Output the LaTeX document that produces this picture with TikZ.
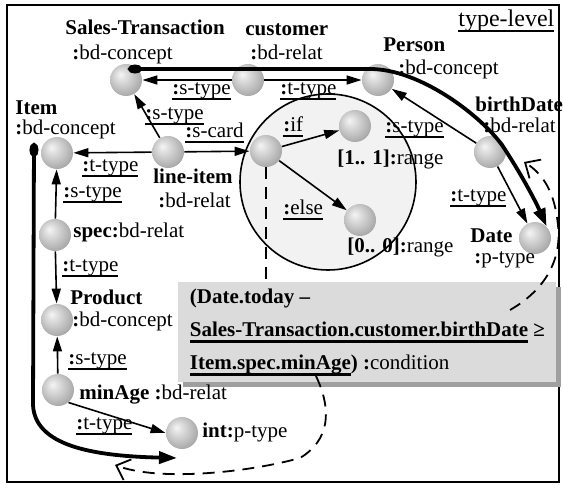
\documentclass[tikz,border=0pt]{standalone}
\usepackage{fontspec}
\setmainfont{Liberation Serif}
\usetikzlibrary{shapes,arrows,arrows.meta,positioning,shadows}

\pgfdeclareradialshading{sphere}{\pgfpoint{-9bp}{9bp}}{color(0bp)=(gray!8); color(8bp)=(gray!25); color(30bp)=(gray!70); color(40bp)=(gray!88); color(50bp)=(gray!92)}
\newcommand{\tul}[1]{\setbox0=\hbox{#1}\rlap{\rule[-2.4pt]{\wd0}{0.9pt}}\box0\relax}
\newcommand{\tulb}[1]{\setbox0=\hbox{#1}\rlap{\rule[-3pt]{\wd0}{1.4pt}}\box0\relax}

\begin{document}
\begin{tikzpicture}[x=0.5pt, y=-0.5pt, font=\fontsize{10.5pt}{12.6pt}\selectfont, ball/.style = {circle, shade, shading=sphere, minimum size=16pt, inner sep=0pt}, lbl/.style = {anchor=west, inner sep=0pt, text height=7pt, text depth=2pt}, line/.style = {draw, line width=0.8pt, -{Triangle[length=7.5pt,width=4.5pt]}}, hint/.style = {draw, line width=0.9pt, dash pattern=on 6pt off 4pt, -{Straight Barb[length=6pt,width=11pt]}}, nav/.style = {draw, line width=1.9pt, {Ellipse[length=7pt,width=4.5pt]}-{Triangle[length=9pt,width=6pt]}}, cond/.style = {rectangle, fill=gray!28, anchor=north west, minimum width=189pt, minimum height=48pt, inner xsep=4.5pt, align=left, font=\fontsize{10.5pt}{16.5pt}\selectfont, drop shadow={shadow xshift=2.5pt, shadow yshift=-2.5pt, fill=gray!75, opacity=1}}, area/.style = {circle, draw, line width=0.8pt, fill=gray!10, minimum size=88pt, inner sep=0pt}]
					\useasboundingbox (0,0) rectangle (563,485);
					\draw[line width=0.8pt] (7,5) rectangle (559,482);
					\node[area] (ifarea) at (328,182) {};
					
					\node[ball] (sales) at (126,80) {};
					\node[ball] (cust) at (248,80) {};
					\node[ball] (person) at (378,80) {};
					\node[ball] (item) at (57,153) {};
					\node[ball] (lineitem) at (168,152) {};
					\node[ball] (card) at (266,151) {};
					\node[ball] (one) at (355,126) {};
					\node[ball] (zero) at (360,220) {};
					\node[ball] (bdate) at (490,152) {};
					\node[ball] (date) at (535,238) {};
					\node[ball] (spec) at (55,235) {};
					\node[ball] (product) at (57,320) {};
					\node[ball] (minage) at (58,390) {};
					\node[ball] (int) at (182,433) {};
					\node[cond] (condition) at (178,282) {\textbf{(Date.today –}\\\textbf{\tulb{Sales-Transaction.customer.birthDate}\ ≥}\\\textbf{\tulb{Item.spec.minAge}) :}condition};
					
					\node[lbl] (stname) at (65,30) {\textbf{Sales-Transaction}};
					\node[lbl] (stcon) at (72,55) {\textbf{:}bd-concept};
					\node[lbl] (cuname) at (245,31) {\textbf{customer}};
					\node[lbl] (curel) at (250,55) {\textbf{:}bd-relat};
					\node[lbl, font=\fontsize{12pt}{14pt}\selectfont] (level) at (458,22) {\tul{type-level}};
					\node[lbl] (pename) at (383,47) {\textbf{Person}};
					\node[lbl] (pecon) at (398,70) {\textbf{:}bd-concept};
					\node[lbl] (bdname) at (475,107) {\textbf{birthDate}};
					\node[lbl] (bdrel) at (483,128) {\textbf{:}bd-relat};
					\node[lbl] (itname) at (15,110) {\textbf{Item}};
					\node[lbl] (itcon) at (15,130) {\textbf{:}bd-concept};
					\node[lbl] (liname) at (153,179) {\textbf{line-item}};
					\node[lbl] (lirel) at (158,203) {\textbf{:}bd-relat};
					\node[lbl] (spname) at (73,233) {\textbf{spec:}bd-relat};
					\node[lbl] (prname) at (70,300) {\textbf{Product}};
					\node[lbl] (prcon) at (72,322) {\textbf{:}bd-concept};
					\node[lbl] (maname) at (79,395) {\textbf{minAge :}bd-relat};
					\node[lbl] (inname) at (202,433) {\textbf{int:}p-type};
					\node[lbl] (onename) at (337,160) {\textbf{[1.. 1]:}range};
					\node[lbl] (zeroname) at (347,248) {\textbf{[0.. 0]:}range};
					\node[lbl] (dtname) at (470,238) {\textbf{Date}};
					\node[lbl] (dttype) at (474,259) {\textbf{:}p-type};
					
					\node[lbl] (stype1) at (172,90) {\tul{\textbf{:}s-type}};
					\node[lbl] (ttype1) at (280,90) {\tul{\textbf{:}t-type}};
					\node[lbl] (stype2) at (145,115) {\tul{\textbf{:}s-type}};
					\node[lbl] (scard) at (185,133) {\tul{\textbf{:}s-card}};
					\node[lbl] (ttype2) at (82,167) {\tul{\textbf{:}t-type}};
					\node[lbl] (stype3) at (63,193) {\tul{\textbf{:}s-type}};
					\node[lbl] (ttype3) at (62,267) {\tul{\textbf{:}t-type}};
					\node[lbl] (stype4) at (68,360) {\tul{\textbf{:}s-type}};
					\node[lbl] (ttype4) at (76,425) {\tul{\textbf{:}t-type}};
					\node[lbl] (iflbl) at (283,127) {\tul{\textbf{:}if}};
					\node[lbl] (elselbl) at (283,210) {\tul{\textbf{:}else}};
					\node[lbl] (stype5) at (385,128) {\tul{\textbf{:}s-type}};
					\node[lbl] (ttype5) at (450,197) {\tul{\textbf{:}t-type}};
					
					\coordinate (stdot) at (128,69);
					\coordinate (itdot) at (34,143);
					\coordinate (navend) at (177,458);
					\coordinate (hinta) at (510,310);
					\coordinate (hintaend) at (524,162);
					\coordinate (hintb) at (316,376);
					\coordinate (hintbend) at (115,465);
					
					\path[line] (cust) -- (sales);
					\path[line] (cust) -- (person);
					\path[line] (lineitem) -- (sales);
					\path[line] (lineitem) -- (item);
					\path[line] (lineitem) -- (card);
					\path[line] (card) -- (one);
					\path[line] (card) -- (zero);
					\path[line] (bdate) -- (person);
					\path[line] (bdate) -- (date);
					\path[line] (spec) -- (item);
					\path[line] (spec) -- (product);
					\path[line] (minage) -- (product);
					\path[line] (minage.-50) -- (int.west);
					\path[hint,-] (card) -- (card |- condition.north);
					\path[hint] (hinta) .. controls (545,290) and (562,260) .. (558,225) .. controls (555,195) and (545,175) .. (hintaend);
					\path[hint] (hintb) .. controls (332,410) and (330,440) .. (300,458) .. controls (250,472) and (160,482) .. (hintbend);
					\path[nav] (stdot) -- (370,69) .. controls (420,69) and (480,115) .. (502,145) .. controls (520,172) and (535,200) .. (date.north east);
					\path[nav] (itdot) -- (33,405) .. controls (35,445) and (90,456) .. (navend);
				\end{tikzpicture}
\end{document}
